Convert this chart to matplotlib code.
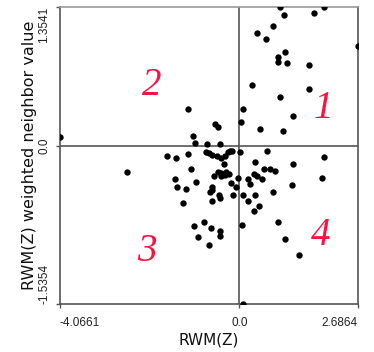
import matplotlib
matplotlib.use("Agg")
import matplotlib.pyplot as plt

# axis extent shown on the chart
x_min, x_max = -4.0661, 2.6864
y_min, y_max = -1.5354, 1.3541

# RWM(Z) vs. spatially lagged value
z = [0.923, 1.928, 1.014, 1.687, 0.764, 0.408, 0.599, 2.6864, 1.036, 0.878,
     0.878, 1.089, 1.574, 0.295, 1.574, 0.923, 1.225, 0.077, 0.032, 0.463,
     0.984, -1.157, -0.544, -0.483, -4.0661, -1.050, -0.998, -0.726, -0.431, -1.647,
     -1.436, -1.163, -0.762, -0.694, -0.626, -0.513, -0.404, -0.318, -0.263, -0.204,
     -0.154, 0.009, -0.336, -2.547, -1.084, -1.458, -1.402, -1.216, -0.971, -0.476,
     -0.404, -0.290, -0.222, -0.562, -0.415, -0.324, -0.023, -0.177, -0.075, -0.626,
     -0.612, -0.660, -0.449, -0.438, -0.619, -0.132, 0.091, -1.270, -1.021, -0.807,
     -0.649, -0.431, -0.431, -0.943, -0.694, 0.635, 1.932, 0.356, 1.225, 0.567,
     0.696, 0.810, 1.876, 0.204, 0.333, 0.401, 0.526, 0.254, 1.200, 0.758,
     0.356, 0.197, 0.442, 0.333, 0.061, 0.882, 1.041, 1.361, 0.077]
wz = [1.35, 1.35, 1.272, 1.294, 1.168, 1.097, 1.039, 0.971, 0.910, 0.864,
      0.816, 0.806, 0.784, 0.595, 0.551, 0.479, 0.294, 0.356, 0.236, 0.168,
      0.143, 0.356, 0.214, 0.187, 0.087, 0.097, 0.026, 0.017, 0.017, -0.100,
      -0.114, -0.078, -0.061, -0.071, -0.081, -0.097, -0.117, -0.092, -0.055, -0.046,
      -0.051, -0.055, -0.172, -0.252, -0.217, -0.320, -0.393, -0.415, -0.347, -0.246,
      -0.257, -0.246, -0.267, -0.291, -0.291, -0.282, -0.308, -0.356, -0.395, -0.395,
      -0.427, -0.444, -0.476, -0.508, -0.531, -0.476, -0.476, -0.556, -0.774, -0.741,
      -0.799, -0.820, -0.871, -0.881, -0.959, -0.046, -0.102, -0.158, -0.170, -0.217,
      -0.226, -0.240, -0.311, -0.314, -0.275, -0.291, -0.320, -0.372, -0.381, -0.444,
      -0.473, -0.534, -0.580, -0.626, -0.765, -0.738, -0.905, -1.053, -1.534]

quad_labels = ["1", "2", "3", "4"]
quad_x = [1.905, -1.987, -2.100, 1.846]
quad_y = [0.366, 0.589, -1.026, -0.864]

x_ticks = [x_min, 0.0, x_max]
x_tick_labels = ["-4.0661", "0.0", "2.6864"]
y_ticks = [y_min, 0.0, y_max]
y_tick_labels = ["-1.5354", "0.0", "1.3541"]

line_col = "#555555"

fig = plt.figure(figsize=(3.74, 3.52), dpi=100)
ax = fig.add_axes([60 / 374, 1 - 304.3 / 352, 297.7 / 374, 297.6 / 352])

ax.scatter(z, wz, s=21, c="black", linewidths=0, zorder=3)
ax.axhline(0, color=line_col, lw=1.2, zorder=2)
ax.axvline(0, color=line_col, lw=1.2, zorder=2)

for lab, qx, qy in zip(quad_labels, quad_x, quad_y):
    ax.text(qx, qy, lab, color="#ff1040", fontsize=28, style="italic",
            family="Liberation Serif", ha="center", va="center")

ax.set_xlim(x_min, x_max)
ax.set_ylim(y_min, y_max)
for sp in ax.spines.values():
    sp.set_color(line_col)
    sp.set_linewidth(1.2)
ax.spines["top"].set_color("#999999")

ax.set_xticks(x_ticks)
ax.set_yticks(y_ticks)
ax.tick_params(length=3, width=1, color=line_col, labelsize=8.5)
ax.tick_params(axis="x", pad=6)
ax.tick_params(axis="y", pad=4)
xl = ax.set_xticklabels(x_tick_labels, family="Liberation Sans", color="#222222")
yl = ax.set_yticklabels(y_tick_labels, family="Liberation Sans", color="#222222",
                        rotation=90, va="center")
xl[0].set_ha("left")
xl[2].set_ha("right")
yl[0].set_va("bottom")
yl[2].set_va("top")

ax.set_xlabel("RWM(Z)", fontsize=11, labelpad=3, color="#111111")
ax.set_ylabel("RWM(Z) weighted neighbor value", fontsize=11.5, labelpad=1,
              color="#111111")

fig.savefig("out.png", dpi=100)
